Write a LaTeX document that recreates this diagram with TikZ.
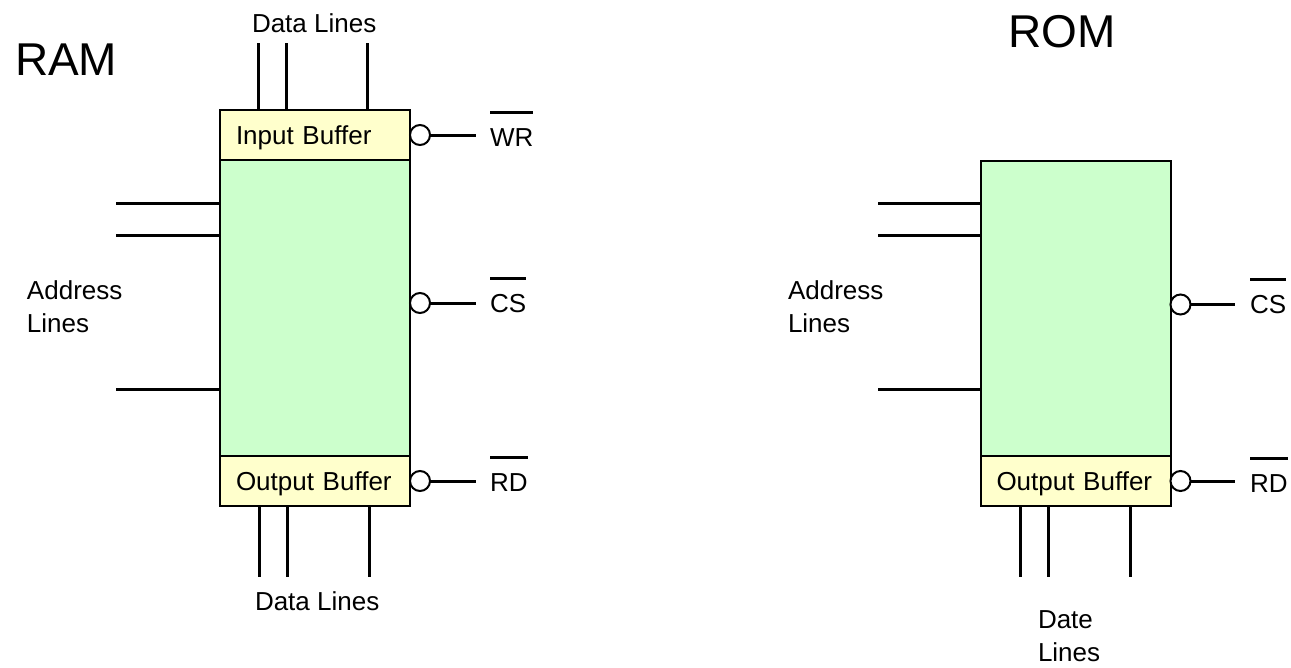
\documentclass[tikz,border=0pt]{standalone}
\usepackage{fontspec}
\setmainfont{Liberation Sans}
\usetikzlibrary{positioning}
\definecolor{bufyellow}{HTML}{FFFFCC}
\definecolor{memgreen}{HTML}{CCFFCC}
\newcommand{\negsig}[1]{\vbox{\hrule height 3pt\vskip 14pt\hbox{#1}}}

\begin{document}
\begin{tikzpicture}[x=1pt, y=-1pt,
    every node/.style={inner sep=0pt, outer sep=0pt},
    lbl/.style={font=\fontsize{26}{33}\selectfont},
    ttl/.style={font=\fontsize{46}{55}\selectfont},
    core/.style={draw, line width=2pt, fill=memgreen, minimum width=190, minimum height=296},
    buf/.style={draw, line width=2pt, fill=bufyellow, minimum width=190, minimum height=50,
      lbl, text width=158, align=left, inner xsep=16pt, text height=19pt, text depth=1pt},
    bubble/.style={circle, draw, line width=2pt, fill=white, minimum size=20, anchor=west},
    bus/.style={line width=3pt}]
  \useasboundingbox (0,0) rectangle (1291,667);

  % RAM
  \node[ttl, anchor=base west] (ramtitle) at (15,75) {RAM};
  \node[core] (ramcore) at (315,308) {};
  \node[buf, above=0pt of ramcore] (raminbuf) {Input Buffer};
  \node[buf, below=0pt of ramcore] (ramoutbuf) {Output Buffer};

  \foreach \x [count=\i] in {258,286,367} {
    \coordinate (ramdin\i) at (\x,43);
    \draw[bus] (ramdin\i) -- (ramdin\i |- raminbuf.north);
  }
  \foreach \x [count=\i] in {259,287,369} {
    \coordinate (ramdout\i) at (\x,577);
    \draw[bus] (ramoutbuf.south -| ramdout\i) -- (ramdout\i);
  }
  \foreach \y [count=\i] in {203,235,389} {
    \coordinate (ramaddr\i) at (116,\y);
    \draw[bus] (ramaddr\i) -- (ramaddr\i -| ramcore.west);
  }

  \node[lbl, anchor=base west] (ramdinlbl) at (252,32) {Data Lines};
  \node[lbl, anchor=base west] (ramdoutlbl) at (255,610) {Data Lines};
  \node[lbl, align=left, anchor=north west] (ramaddrlbl) at (27,281) {Address\\Lines};

  \node[bubble] (ramwrb) at (raminbuf.east) {};
  \node[bubble] (ramcsb) at ([yshift=5pt]ramcore.east) {};
  \node[bubble] (ramrdb) at (ramoutbuf.east) {};
  \node[lbl, anchor=base west] (ramwr) at (490,146) {\negsig{WR}};
  \node[lbl, anchor=base west] (ramcs) at (490,312) {\negsig{CS}};
  \node[lbl, anchor=base west] (ramrd) at (490,491) {\negsig{RD}};
  \foreach \b/\l in {ramwrb/ramwr, ramcsb/ramcs, ramrdb/ramrd}
    \draw[bus] (\b.east) -- ([xshift=-14pt]\l.west |- \b.center);

  % ROM
  \node[ttl, anchor=base west] (romtitle) at (1008,47) {ROM};
  \node[core, minimum height=295] (romcore) at (1075.5,308.5) {};
  \node[buf, below=0pt of romcore] (romoutbuf) {Output Buffer};

  \foreach \x [count=\i] in {1020,1048,1130} {
    \coordinate (romdout\i) at (\x,577);
    \draw[bus] (romoutbuf.south -| romdout\i) -- (romdout\i);
  }
  \foreach \y [count=\i] in {203,235,389} {
    \coordinate (romaddr\i) at (878,\y);
    \draw[bus] (romaddr\i) -- (romaddr\i -| romcore.west);
  }

  \node[lbl, align=left, anchor=north west] (romaddrlbl) at (788,281) {Address\\Lines};
  \node[lbl, align=left, anchor=north west] (romdoutlbl) at (1038,611) {Date\\Lines};

  \node[bubble] (romcsb) at ([yshift=4pt]romcore.east) {};
  \node[bubble] (romrdb) at (romoutbuf.east) {};
  \node[lbl, anchor=base west] (romcs) at (1250,313) {\negsig{CS}};
  \node[lbl, anchor=base west] (romrd) at (1250,492) {\negsig{RD}};
  \foreach \b/\l in {romcsb/romcs, romrdb/romrd}
    \draw[bus] (\b.east) -- ([xshift=-15pt]\l.west |- \b.center);
\end{tikzpicture}
\end{document}
